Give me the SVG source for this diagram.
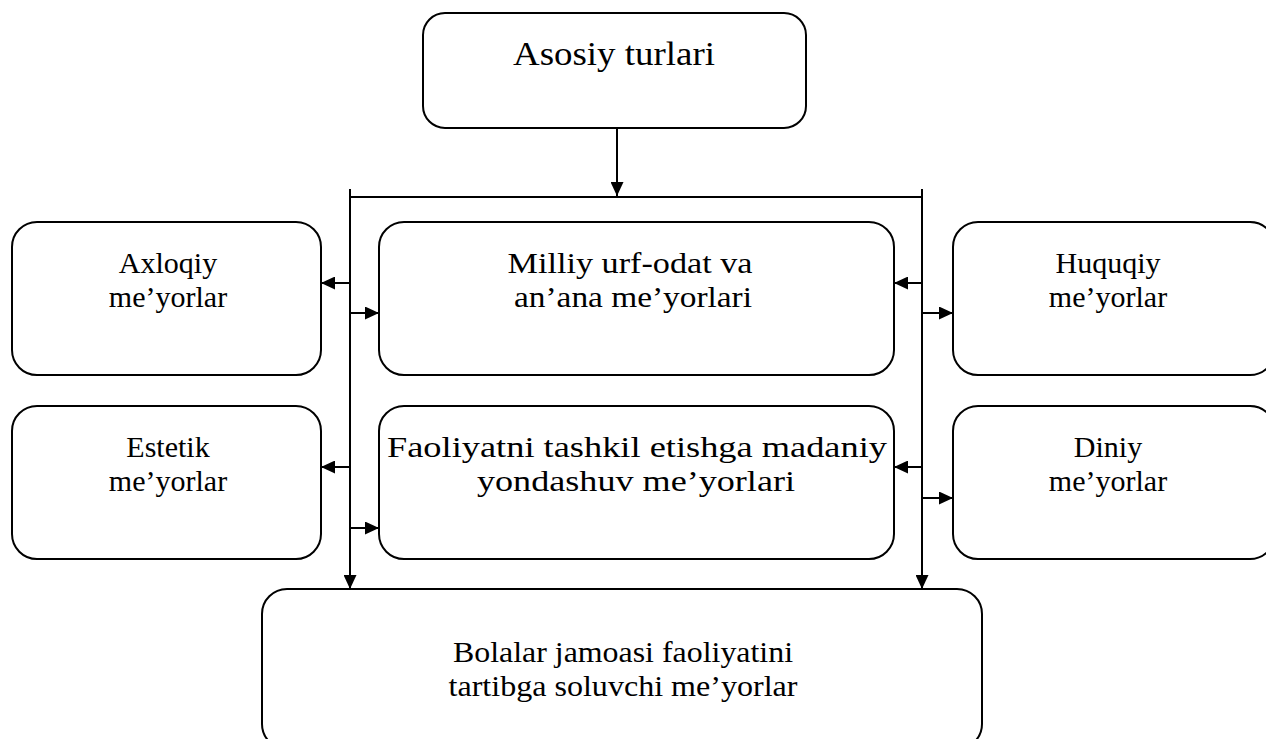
<svg xmlns="http://www.w3.org/2000/svg" width="1266" height="739" viewBox="0 0 1266 739">
<style>
.box{fill:#fff;stroke:#000;stroke-width:2}
.ln{fill:none;stroke:#000;stroke-width:2}
text{font-family:"Liberation Serif","Times New Roman",serif;font-size:30px;fill:#000;text-anchor:middle}
.big{font-size:34px}
</style>
<defs>
<marker id="ah" viewBox="0 0 14 13" refX="14" refY="6.5" markerWidth="14" markerHeight="13" markerUnits="userSpaceOnUse" orient="auto">
<path d="M0,0 L14,6.5 L0,13 z" fill="#000"/>
</marker>
</defs>
<g id="top"><rect class="box" x="423" y="13" width="383" height="115" rx="22"/><text class="big" x="614" y="65" textLength="202" lengthAdjust="spacingAndGlyphs">Asosiy turlari</text></g>
<g id="axloqiy"><rect class="box" x="12" y="222" width="309" height="153" rx="25"/><text x="168" y="273">Axloqiy</text><text x="168" y="307">me’yorlar</text></g>
<g id="milliy"><rect class="box" x="379" y="222" width="515" height="153" rx="25"/><text x="630" y="273" textLength="245" lengthAdjust="spacingAndGlyphs">Milliy urf-odat va</text><text x="633" y="307" textLength="238" lengthAdjust="spacingAndGlyphs">an’ana me’yorlari</text></g>
<g id="huquqiy"><rect class="box" x="953" y="222" width="322" height="153" rx="25"/><text x="1108" y="273">Huquqiy</text><text x="1108" y="307">me’yorlar</text></g>
<g id="estetik"><rect class="box" x="12" y="406" width="309" height="153" rx="25"/><text x="168" y="457">Estetik</text><text x="168" y="491">me’yorlar</text></g>
<g id="faoliyat"><rect class="box" x="379" y="406" width="515" height="153" rx="25"/><text x="637" y="457" textLength="500" lengthAdjust="spacingAndGlyphs">Faoliyatni tashkil etishga madaniy</text><text x="636" y="491" textLength="318" lengthAdjust="spacingAndGlyphs">yondashuv me’yorlari</text></g>
<g id="diniy"><rect class="box" x="953" y="406" width="322" height="153" rx="25"/><text x="1108" y="457">Diniy</text><text x="1108" y="491">me’yorlar</text></g>
<g id="bolalar"><rect class="box" x="262" y="589" width="720" height="160" rx="25"/><text x="623" y="662" textLength="340" lengthAdjust="spacingAndGlyphs">Bolalar jamoasi faoliyatini</text><text x="623" y="696" textLength="349" lengthAdjust="spacingAndGlyphs">tartibga soluvchi me’yorlar</text></g>
<g id="connectors">
<path class="ln" d="M617,128 V196" marker-end="url(#ah)"/>
<path class="ln" d="M350,197 H922"/>
<path class="ln" d="M350,189 V589" marker-end="url(#ah)"/>
<path class="ln" d="M922,189 V589" marker-end="url(#ah)"/>
<path class="ln" d="M350,283 H321" marker-end="url(#ah)"/>
<path class="ln" d="M350,313 H379" marker-end="url(#ah)"/>
<path class="ln" d="M350,467 H321" marker-end="url(#ah)"/>
<path class="ln" d="M350,528 H379" marker-end="url(#ah)"/>
<path class="ln" d="M922,283 H894" marker-end="url(#ah)"/>
<path class="ln" d="M922,313 H953" marker-end="url(#ah)"/>
<path class="ln" d="M922,467 H894" marker-end="url(#ah)"/>
<path class="ln" d="M922,498 H953" marker-end="url(#ah)"/>
</g>
</svg>
